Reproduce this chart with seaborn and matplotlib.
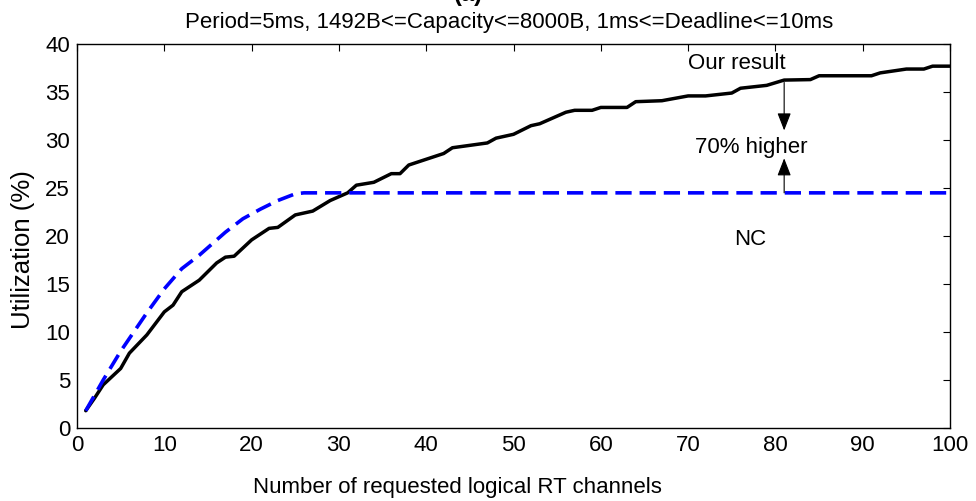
import matplotlib
matplotlib.use("Agg")
import matplotlib.pyplot as plt
import seaborn as sns
import pandas as pd

# Achieved utilization vs. number of requested channels
ours_x = [1, 2, 3, 5, 6, 8, 10, 11, 12, 14, 15, 16, 17, 18, 20, 22, 23, 25, 27, 29,
          31, 32, 34, 36, 37, 38, 40, 42, 43, 47, 48, 50, 52, 53, 56, 57, 59, 60, 63, 64,
          67, 70, 72, 75, 76, 79, 81, 84, 85, 91, 92, 95, 97, 98, 100]
ours_y = [1.8, 3.1, 4.5, 6.2, 7.8, 9.7, 12.1, 12.8, 14.2, 15.4, 16.3, 17.2, 17.8, 17.9,
          19.6, 20.8, 20.9, 22.2, 22.6, 23.7, 24.5, 25.3, 25.6, 26.5, 26.5, 27.4, 28.0,
          28.6, 29.2, 29.7, 30.2, 30.6, 31.5, 31.7, 32.9, 33.1, 33.1, 33.4, 33.4, 34.0,
          34.1, 34.6, 34.6, 34.9, 35.4, 35.7, 36.25, 36.3, 36.7, 36.7, 37.0, 37.4, 37.4,
          37.7, 37.7]
nc_x = [1, 3, 5, 8, 10, 12, 14, 17, 19, 21, 23, 25, 26, 100]
nc_y = [1.8, 5.0, 8.0, 12.0, 14.5, 16.6, 18.0, 20.4, 21.8, 22.8, 23.7, 24.4, 24.5, 24.5]

x_ticks = list(range(0, 101, 10))
y_ticks = list(range(0, 41, 5))

sns.set_theme(style="white")
plt.rcParams["font.family"] = ["Liberation Sans", "DejaVu Sans"]
plt.rcParams["text.color"] = "black"
plt.rcParams["axes.labelcolor"] = "black"

FS = 16

fig = plt.figure(figsize=(9.76, 5.01), dpi=100)
ax = fig.add_axes([0.0789, 0.1457, 0.8945, 0.7663])

ours = pd.DataFrame({"x": ours_x, "y": ours_y})
nc = pd.DataFrame({"x": nc_x, "y": nc_y})
sns.lineplot(data=ours, x="x", y="y", ax=ax, color="black", linewidth=2.5)
sns.lineplot(data=nc, x="x", y="y", ax=ax, color="#0000ff", linewidth=2.6,
             linestyle=(0, (4.5, 2.2)))

ax.set_xlim(0, 100)
ax.set_ylim(0, 40)
ax.set_xticks(x_ticks)
ax.set_yticks(y_ticks)
ax.tick_params(direction="in", length=5, width=0.8, top=True, right=True,
               labelsize=FS, colors="black", pad=5)
for s in ax.spines.values():
    s.set_color("black")
    s.set_linewidth(1.0)

ax.set_xlabel("Number of requested logical RT channels", fontsize=FS, va="center")
ax.xaxis.set_label_coords(0.436, -0.154)
ax.set_ylabel("Utilization (%)", fontsize=18.5, va="center")
ax.yaxis.set_label_coords(-0.062, 0.4635)

fig.text(0.5215, 0.956, "Period=5ms, 1492B<=Capacity<=8000B, 1ms<=Deadline<=10ms",
         ha="center", va="center", fontsize=FS)
fig.text(0.48, 0.988, "(a)", ha="center", va="bottom", fontsize=17, fontweight="bold")

ax.text(75.6, 38.0, "Our result", ha="center", va="center", fontsize=FS)
ax.text(77.2, 29.2, "70% higher", ha="center", va="center", fontsize=FS)
ax.text(77.1, 19.6, "NC", ha="center", va="center", fontsize=FS)

ax.annotate("", xy=(81, 31.0), xytext=(81, 36.0),
            arrowprops=dict(arrowstyle="-|>,head_length=0.9,head_width=0.35",
                            color="black", lw=0.8, shrinkA=0, shrinkB=0))
ax.annotate("", xy=(81, 28.1), xytext=(81, 24.5),
            arrowprops=dict(arrowstyle="-|>,head_length=0.9,head_width=0.35",
                            color="black", lw=0.8, shrinkA=0, shrinkB=0))

fig.savefig("out.png", dpi=100, facecolor="white")
